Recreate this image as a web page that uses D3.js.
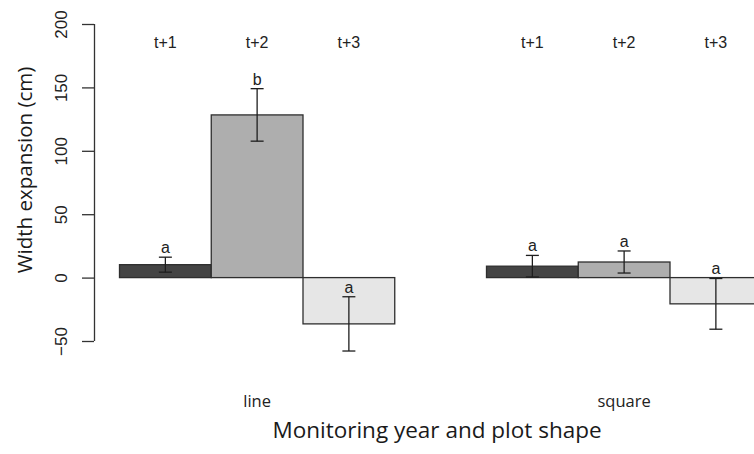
<!DOCTYPE html>
<html>
<head>
<meta charset="utf-8">
<script src="https://cdn.jsdelivr.net/npm/d3@7"></script>
<style>
  html, body { margin: 0; padding: 0; background: #fff; }
  svg { display: block; }
</style>
</head>
<body>
<svg id="chart" width="754" height="454"></svg>
<script>
// Plot shapes (groups) and monitoring years (bars within a group)
const shapes = ["line", "square"];
const years = ["t+1", "t+2", "t+3"];

// Mean width expansion (cm) per shape, one entry per year
const lineMeans = [10.2, 128.3, -36.5];
const squareMeans = [9.0, 12.3, -20.7];

// Half-length of each error bar (cm)
const lineErr = [5.9, 20.7, 21.4];
const squareErr = [8.5, 8.7, 20.0];

// Significance letters
const lineLetters = ["a", "b", "a"];
const squareLetters = ["a", "a", "a"];

const yTicks = [-50, 0, 50, 100, 150, 200];
const barFills = ["#444444", "#aeaeae", "#e6e6e6"];

const means = [lineMeans, squareMeans];
const errs = [lineErr, squareErr];
const letters = [lineLetters, squareLetters];

const svg = d3.select("#chart");

// Each group takes 3 bar slots followed by one empty slot
const x = d3.scaleLinear().domain([0, 8]).range([119.5, 853.5]);
const y = d3.scaleLinear().domain([-50, 200]).range([341, 24]);

const bars = [];
shapes.forEach((s, g) => {
  years.forEach((yr, i) => {
    bars.push({ shape: s, year: yr, i, slot: g * 4 + i,
      value: means[g][i], err: errs[g][i], letter: letters[g][i] });
  });
});

// Bars
svg.append("g").selectAll("rect").data(bars).join("rect")
  .attr("x", d => x(d.slot))
  .attr("width", d => x(d.slot + 1) - x(d.slot))
  .attr("y", d => y(Math.max(0, d.value)))
  .attr("height", d => Math.abs(y(d.value) - y(0)))
  .attr("fill", d => barFills[d.i])
  .attr("stroke", "#2e2e2e")
  .attr("stroke-width", 1.3);

// Error bars
const eb = svg.append("g").attr("stroke", "#1e1e1e").attr("stroke-width", 1.3);
const cx = d => x(d.slot + 0.5);
eb.selectAll("line.v").data(bars).join("line").attr("class", "v")
  .attr("x1", cx).attr("x2", cx)
  .attr("y1", d => y(d.value + d.err)).attr("y2", d => y(d.value - d.err));
eb.selectAll("line.t").data(bars).join("line").attr("class", "t")
  .attr("x1", d => cx(d) - 6.5).attr("x2", d => cx(d) + 6.5)
  .attr("y1", d => y(d.value + d.err)).attr("y2", d => y(d.value + d.err));
eb.selectAll("line.b").data(bars).join("line").attr("class", "b")
  .attr("x1", d => cx(d) - 6.5).attr("x2", d => cx(d) + 6.5)
  .attr("y1", d => y(d.value - d.err)).attr("y2", d => y(d.value - d.err));

// Letters above the error bars
svg.append("g").selectAll("text").data(bars).join("text")
  .attr("x", cx)
  .attr("y", d => y(d.value + d.err) - 4)
  .attr("text-anchor", "middle")
  .attr("font-family", "Liberation Sans, Arial, sans-serif")
  .attr("font-size", 16)
  .attr("fill", "#222")
  .text(d => d.letter);

// Year labels along the top
svg.append("g").selectAll("text").data(bars).join("text")
  .attr("x", cx)
  .attr("y", 48)
  .attr("text-anchor", "middle")
  .attr("font-family", "Liberation Sans, Arial, sans-serif")
  .attr("font-size", 16)
  .attr("fill", "#222")
  .text(d => d.year);

// Shape labels under each group
svg.append("g").selectAll("text").data(shapes).join("text")
  .attr("x", (s, g) => x(g * 4 + 1.5))
  .attr("y", 407)
  .attr("text-anchor", "middle")
  .attr("font-family", "Open Sans, sans-serif")
  .attr("font-size", 16.5)
  .attr("fill", "#222")
  .text(d => d);

// Y axis
const yAxis = d3.axisLeft(y).tickValues(yTicks).tickSize(12).tickPadding(0);
const ag = svg.append("g").attr("transform", "translate(94,0)").call(yAxis);
ag.select(".domain").attr("stroke", "#333").attr("stroke-width", 1.3)
  .attr("d", `M0.5,${y(-50)}V${y(200)}`);
ag.selectAll(".tick line").attr("stroke", "#333").attr("stroke-width", 1.3);
ag.selectAll(".tick text")
  .attr("font-family", "Liberation Sans, Arial, sans-serif")
  .attr("font-size", 17)
  .attr("fill", "#222")
  .attr("text-anchor", "middle")
  .attr("dy", 0)
  .attr("transform", "translate(-27,0) rotate(-90)")
  .attr("x", 0).attr("y", 0);

// Axis titles
svg.append("text")
  .attr("transform", `translate(32,170) rotate(-90)`)
  .attr("text-anchor", "middle")
  .attr("font-family", "Open Sans, sans-serif")
  .attr("font-size", 20.5)
  .attr("fill", "#1a1a1a")
  .text("Width expansion (cm)");

svg.append("text")
  .attr("x", 437)
  .attr("y", 438)
  .attr("text-anchor", "middle")
  .attr("font-family", "Open Sans, sans-serif")
  .attr("font-size", 22.5)
  .attr("fill", "#1a1a1a")
  .text("Monitoring year and plot shape");
</script>
</body>
</html>
